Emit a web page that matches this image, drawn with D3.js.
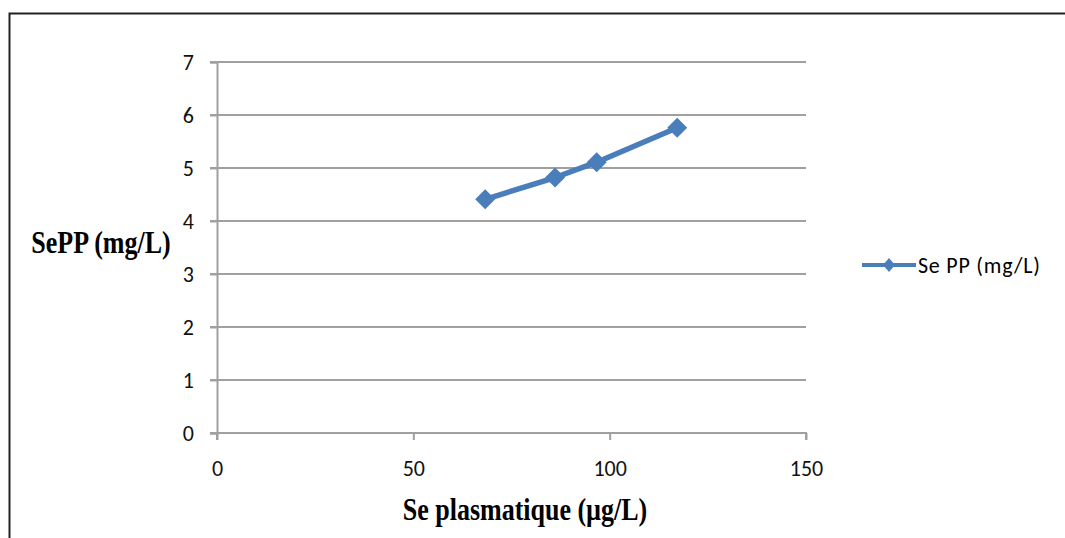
<!DOCTYPE html>
<html>
<head>
<meta charset="utf-8">
<script src="https://cdn.jsdelivr.net/npm/d3@7"></script>
<style>
body { margin: 0; background: #fff; }
</style>
</head>
<body>
<svg id="chart" width="1065" height="538"></svg>
<script>
// data
var seriesName = "Se PP (mg/L)";
var sePlasma = [68.3, 86.1, 96.7, 117.2];
var sePP = [4.41, 4.82, 5.11, 5.76];
var xTicks = [0, 50, 100, 150];
var yTicks = [0, 1, 2, 3, 4, 5, 6, 7];

var svg = d3.select('#chart');
var blue = "#4a7ebb";
var tickFont = "Carlito, 'Open Sans', 'Liberation Sans', sans-serif";
var titleFont = "'Liberation Serif', 'Times New Roman', serif";

// outer frame (cut off at right/bottom like the source)
svg.append("rect").attr("x", 9.5).attr("y", 13.5).attr("width", 1100).attr("height", 600)
		.attr("fill", "none").attr("stroke", "#222").attr("stroke-width", 2);

// scales
var xScale = d3.scaleLinear().domain([0, 150]).range([217, 806]);
var yScale = d3.scaleLinear().domain([0, 7]).range([433, 62]);

// gridlines
svg.append("g").selectAll("line").data(yTicks).enter().append("line")
		.attr("x1", 210).attr("x2", xScale(150))
		.attr("y1", function(d){return yScale(d);}).attr("y2", function(d){return yScale(d);})
		.attr("stroke", "#a0a0a0").attr("stroke-width", 2);

// y axis
var yAxis = d3.axisLeft(yScale).tickValues(yTicks).tickFormat(d3.format("d")).tickSize(7).tickPadding(16);
var gy = svg.append("g").attr("transform", "translate(" + xScale(0) + ",0)").call(yAxis);
// x axis
var xAxis = d3.axisBottom(xScale).tickValues(xTicks).tickSize(7).tickPadding(20);
var gx = svg.append("g").attr("transform", "translate(0," + yScale(0) + ")").call(xAxis);

[gx, gy].forEach(function(g){
	g.select(".domain").attr("stroke", "#a0a0a0").attr("stroke-width", 2);
	g.selectAll(".tick line").attr("stroke", "#a0a0a0").attr("stroke-width", 2);
	g.selectAll(".tick text").attr("fill", "#111").style("font-family", tickFont).style("font-size", "22px");
});
gx.select(".domain").attr("d", "M" + xScale(0) + ",7V0H" + xScale(150) + "V7");

// diamond marker
function diamond(w, h){
	return "M0," + (-h) + "L" + w + ",0L0," + h + "L" + (-w) + ",0Z";
}

// series line
var pts = sePlasma.map(function(v, i){ return {x: v, y: sePP[i]}; });
var line = d3.line().x(function(d){return xScale(d.x);}).y(function(d){return yScale(d.y);});
svg.append("path").attr("d", line(pts)).attr("fill", "none").attr("stroke", blue).attr("stroke-width", 5.5)
		.attr("stroke-linejoin", "round");
svg.append("g").selectAll("path").data(pts).enter().append("path")
		.attr("d", diamond(10, 10))
		.attr("transform", function(d){return "translate(" + xScale(d.x) + "," + yScale(d.y) + ")";})
		.attr("fill", blue);

// axis titles (source text looks a bit stretched vertically)
svg.append("text").attr("transform", "translate(525,520) scale(1,1.2)").attr("text-anchor", "middle")
		.style("font-family", titleFont).style("font-weight", "bold").style("font-size", "26px")
		.text("Se plasmatique (µg/L)");
svg.append("text").attr("transform", "translate(101,253) scale(1,1.2)").attr("text-anchor", "middle")
		.style("font-family", titleFont).style("font-weight", "bold").style("font-size", "26px")
		.text("SePP (mg/L)");

// legend
var lg = svg.append("g").attr("transform", "translate(862,265)");
lg.append("line").attr("x1", 0).attr("x2", 54).attr("y1", 0).attr("y2", 0).attr("stroke", blue).attr("stroke-width", 4);
lg.append("path").attr("d", diamond(6, 7)).attr("transform", "translate(27,0)").attr("fill", blue);
lg.append("text").attr("x", 56).attr("y", 8).style("font-family", tickFont).style("font-size", "22px")
		.attr("textLength", 122).attr("lengthAdjust", "spacing")
		.text(seriesName);
</script>
</body>
</html>
